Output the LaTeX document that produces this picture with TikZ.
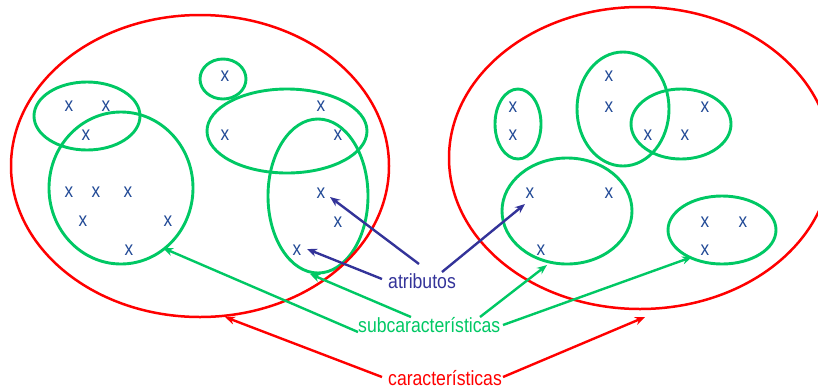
\documentclass[tikz,border=0pt]{standalone}
\usepackage{fontspec}
\setmainfont{Liberation Sans}[FakeStretch=0.86]
\usetikzlibrary{arrows.meta}
\definecolor{cred}{RGB}{255,0,0}
\definecolor{cgreen}{RGB}{0,200,100}
\definecolor{xblue}{RGB}{34,74,150}
\definecolor{ablue}{RGB}{51,51,153}
\tikzset{
  redell/.style={draw=cred,line width=2.5pt},
  greenell/.style={draw=cgreen,line width=2.9pt},
  xmark/.style={text=xblue,inner sep=0pt,font=\fontsize{20}{22}\selectfont},
  lbl/.style={inner sep=0pt,anchor=base west,font=\fontsize{20.5}{24}\selectfont},
  arr/.style={line width=2.4pt,-{Stealth[length=10pt,width=8pt]}},
}
\begin{document}
\begin{tikzpicture}[x=1pt,y=-1pt]
\useasboundingbox (0,0) rectangle (818,389);
\begin{scope}
\clip (0,0) rectangle (818,389);
% green ellipses left
\draw[greenell] (87,116) ellipse [x radius=53,y radius=34];
\draw[greenell] (121,188) ellipse [x radius=72,y radius=76];
\draw[greenell] (223,79) ellipse [x radius=23,y radius=20];
\draw[greenell] (287,131) ellipse [x radius=80,y radius=42];
\draw[greenell] (318,196) ellipse [x radius=50,y radius=77];
% green ellipses right
\draw[greenell] (518,124) ellipse [x radius=23,y radius=35];
\draw[greenell] (623,109) ellipse [x radius=46,y radius=57];
\draw[greenell] (681,124) ellipse [x radius=50,y radius=35];
\draw[greenell] (567,211) ellipse [x radius=65,y radius=53];
\draw[greenell] (722,230) ellipse [x radius=54,y radius=34];
% red ellipses
\draw[redell] (200,166) ellipse [x radius=189,y radius=151];
\draw[redell] (640,158) ellipse [x radius=191,y radius=151];
\end{scope}
% x marks
\foreach \p/\n in {{69,106}/a1,{106,106}/a2,{86,135}/a3,{69,192}/a4,{96,192}/a5,{128,192}/a6,
  {83,221}/a7,{168,221}/a8,{129,250}/a9,{225,76}/a10,{321,106}/a11,{225,135}/a12,{338,135}/a13,
  {321,193}/a14,{338,222}/a15,{297,250}/a16,
  {513,107}/b1,{513,135}/b2,{609,76}/b3,{609,107}/b4,{648,135}/b5,{705,107}/b6,{685,135}/b7,
  {530,193}/b8,{609,193}/b9,{541,250}/b10,{705,222}/b11,{743,222}/b12,{705,250}/b13}
  \node[xmark] (\n) at (\p) {x};
% labels
\node[lbl,text=ablue] (atr) at (388,288.5) {atributos};
\node[lbl,text=cgreen] (sub) at (358,332.5) {subcaracterísticas};
\node[lbl,text=cred] (car) at (388,385.5) {características};
% arrow endpoints
\coordinate (atrA) at (382,279); \coordinate (tA) at (307,249);
\coordinate (atrB) at (419,264); \coordinate (tB) at (330,197);
\coordinate (atrC) at (442,272); \coordinate (tC) at (525,204);
\coordinate (subA) at (358,332); \coordinate (sA) at (163,248);
\coordinate (subB) at (411,317); \coordinate (sB) at (310,274);
\coordinate (subC) at (480,317); \coordinate (sC) at (547,265);
\coordinate (subD) at (503,325); \coordinate (sD) at (692,257);
\coordinate (carA) at (382,377); \coordinate (cA) at (225,317);
\coordinate (carB) at (503,377); \coordinate (cB) at (645,317);
\draw[arr,draw=ablue] (atrA) -- (tA);
\draw[arr,draw=ablue] (atrB) -- (tB);
\draw[arr,draw=ablue] (atrC) -- (tC);
\draw[arr,draw=cgreen] (subA) -- (sA);
\draw[arr,draw=cgreen] (subB) -- (sB);
\draw[arr,draw=cgreen] (subC) -- (sC);
\draw[arr,draw=cgreen] (subD) -- (sD);
\draw[arr,draw=cred] (carA) -- (cA);
\draw[arr,draw=cred] (carB) -- (cB);
\end{tikzpicture}
\end{document}
